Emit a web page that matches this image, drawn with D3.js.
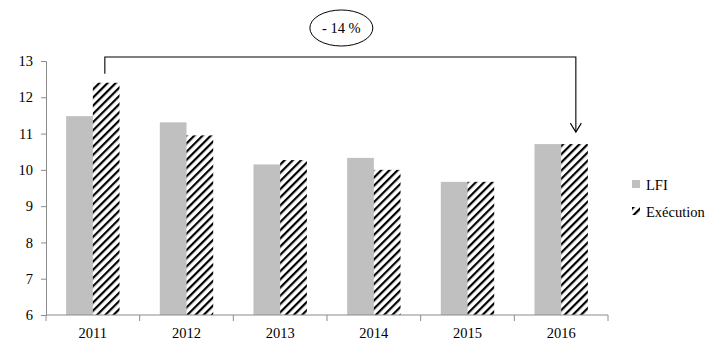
<!DOCTYPE html>
<html>
<head>
<meta charset="utf-8">
<script src="https://cdn.jsdelivr.net/npm/d3@7"></script>
<style>
  body { margin: 0; background: #fff; }
  text { font-family: "Liberation Serif", "DejaVu Serif", serif; font-size: 14.5px; fill: #000; }
</style>
</head>
<body>
<svg id="chart" width="717" height="351"></svg>
<script>
// data
var years = ["2011", "2012", "2013", "2014", "2015", "2016"];
var lfi = [11.48, 11.31, 10.15, 10.33, 9.67, 10.71];
var execution = [12.40, 10.95, 10.27, 10.0, 9.67, 10.71];
var yTicks = [6, 7, 8, 9, 10, 11, 12, 13];
var seriesNames = ["LFI", "Exécution"];
var changeLabel = "- 14 %";

var margin = {left: 46, top: 61, right: 109, bottom: 36},
    width = 717 - margin.left - margin.right,
    height = 351 - margin.top - margin.bottom;

var svg = d3.select("#chart");

// hatch pattern for the Exécution series
var defs = svg.append("defs");
defs.append("pattern")
    .attr("id", "hatch")
    .attr("patternUnits", "userSpaceOnUse")
    .attr("width", 5.8)
    .attr("height", 5.8)
    .attr("patternTransform", "rotate(45)")
    .append("rect")
    .attr("x", 0).attr("y", 0)
    .attr("width", 2.2).attr("height", 5.8)
    .attr("fill", "#000");

var g = svg.append("g")
    .attr("transform", "translate(" + margin.left + "," + margin.top + ")");

var x = d3.scaleBand()
    .domain(years)
    .range([0, width])
    .paddingInner(0.43)
    .paddingOuter(0.215);

var y = d3.scaleLinear()
    .domain([6, 13])
    .range([height, 0]);

var barW = x.bandwidth() / 2;

// bars
g.selectAll(".lfi")
    .data(years)
    .enter()
    .append("rect")
    .attr("class", "lfi")
    .attr("x", function(d) { return x(d); })
    .attr("y", function(d, i) { return y(lfi[i]); })
    .attr("width", barW)
    .attr("height", function(d, i) { return height - y(lfi[i]); })
    .style("fill", "#c0c0c0");

g.selectAll(".exe")
    .data(years)
    .enter()
    .append("rect")
    .attr("class", "exe")
    .attr("x", function(d) { return x(d) + barW; })
    .attr("y", function(d, i) { return y(execution[i]); })
    .attr("width", barW)
    .attr("height", function(d, i) { return height - y(execution[i]); })
    .style("fill", "url(#hatch)");

// y axis
var yAxis = g.append("g")
    .call(d3.axisLeft(y).tickValues(yTicks).tickSize(5).tickPadding(8).tickFormat(d3.format("d")));
yAxis.select(".domain").attr("stroke", "#8c8c8c");
yAxis.selectAll(".tick line").attr("stroke", "#8c8c8c");
yAxis.selectAll("text").style("font-family", "Liberation Serif, serif").style("font-size", "14.5px").attr("fill", "#000");

// x axis (ticks between the categories)
var xAxis = g.append("g")
    .attr("transform", "translate(0," + height + ")");
xAxis.append("line")
    .attr("x1", 0).attr("x2", width)
    .attr("stroke", "#8c8c8c");
var step = x.step();
xAxis.selectAll(".sep")
    .data(d3.range(years.length + 1))
    .enter()
    .append("line")
    .attr("x1", function(d) { return d * step; })
    .attr("x2", function(d) { return d * step; })
    .attr("y1", 0).attr("y2", 6)
    .attr("stroke", "#8c8c8c");
xAxis.selectAll(".lab")
    .data(years)
    .enter()
    .append("text")
    .attr("x", function(d) { return x(d) + x.bandwidth() / 2; })
    .attr("y", 23)
    .attr("text-anchor", "middle")
    .text(function(d) { return d; });

// bracket arrow from 2011 execution to 2016 execution
var x0 = x(years[0]) + barW * 1.45;
var x1 = x(years[5]) + barW * 1.55;
var topY = y(13) - 4;
g.append("path")
    .attr("d", "M" + x0 + "," + (y(execution[0]) - 9) + " V" + topY + " H" + x1 + " V" + (y(execution[5]) - 12))
    .attr("fill", "none")
    .attr("stroke", "#000")
    .attr("stroke-width", 1.1);
var tipY = y(execution[5]) - 12;
g.append("path")
    .attr("d", "M" + (x1 - 5.5) + "," + (tipY - 9) + " L" + x1 + "," + tipY + " L" + (x1 + 5.5) + "," + (tipY - 9))
    .attr("fill", "none")
    .attr("stroke", "#000")
    .attr("stroke-width", 1.1);

// label in ellipse
var cx = (x0 + x1) / 2 + 1;
g.append("ellipse")
    .attr("cx", cx).attr("cy", topY - 29)
    .attr("rx", 31.5).attr("ry", 18)
    .attr("fill", "#fff")
    .attr("stroke", "#000")
    .attr("stroke-width", 1);
g.append("text")
    .attr("x", cx).attr("y", topY - 24)
    .attr("text-anchor", "middle")
    .text(changeLabel);

// legend
var legend = svg.append("g")
    .attr("transform", "translate(632,180)");
var li = legend.selectAll("g")
    .data(seriesNames)
    .enter()
    .append("g")
    .attr("transform", function(d, i) { return "translate(0," + (i * 27) + ")"; });
li.append("rect")
    .attr("width", 8).attr("height", 8)
    .style("fill", function(d, i) { return i === 0 ? "#c0c0c0" : "url(#hatch)"; });
li.append("text")
    .attr("x", 14).attr("y", 9.5)
    .text(function(d) { return d; });
</script>
</body>
</html>
